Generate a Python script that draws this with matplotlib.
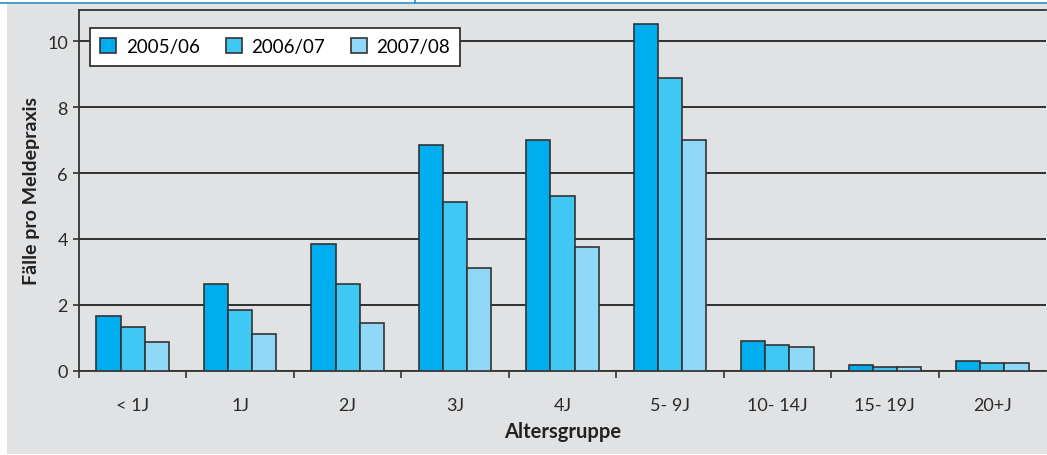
import matplotlib.pyplot as plt
import matplotlib.patches as mpatches
import numpy as np

plt.rcParams['font.family'] = ['Lato', 'DejaVu Sans']

groups = ['< 1J', '1J', '2J', '3J', '4J', '5- 9J', '10- 14J', '15- 19J', '20+J']
seasons = ['2005/06', '2006/07', '2007/08']
v0506 = [1.67, 2.64, 3.85, 6.86, 7.00, 10.52, 0.89, 0.17, 0.29]
v0607 = [1.34, 1.84, 2.64, 5.13, 5.31, 8.90, 0.78, 0.10, 0.22]
v0708 = [0.88, 1.12, 1.44, 3.13, 3.76, 7.00, 0.73, 0.10, 0.22]
colors = ['#00aeef', '#40c8f4', '#8fd8f8']

fig = plt.figure(figsize=(10.47, 4.56), dpi=100)
# grey panel behind the chart
fig.patches.append(mpatches.Rectangle((7/1047, 1/456), 1 - 7/1047, 450/456,
                   transform=fig.transFigure, facecolor='#e1e2e4', edgecolor='none', zorder=-5))
fig.lines.append(plt.Line2D([0, 1], [1 - 4/456, 1 - 4/456], transform=fig.transFigure,
                 color='#2a8fc4', lw=1.2))
fig.lines.append(plt.Line2D([415/1047, 415/1047], [1 - 4/456, 1], transform=fig.transFigure,
                 color='#2a8fc4', lw=1.2))

ax = fig.add_axes([79/1047, 1 - 371.7/456, 967/1047, 360.7/456])
ax.set_facecolor('none')

x = np.arange(len(groups))
w = 0.225
for i, (vals, lab) in enumerate(zip([v0506, v0607, v0708], seasons)):
    ax.bar(x + (i - 1) * w, vals, w, color=colors[i], edgecolor='#333333',
           linewidth=1.2, label=lab, zorder=3)

ax.set_xlim(-0.5, len(groups) - 0.5)
ax.set_ylim(0, 10.95)
ax.set_yticks([0, 2, 4, 6, 8, 10])
ax.grid(axis='y', color='#222222', lw=1.3, zorder=1)
ax.set_xticks(np.arange(len(groups)) - 0.5)
ax.set_xticklabels([])
ax.set_xticks(x, minor=True)
ax.set_xticklabels(groups, minor=True)
ax.tick_params(axis='x', which='major', length=5, width=1.2, color='#333333', direction='out')
ax.tick_params(axis='x', which='minor', length=0, pad=19, labelsize=13, labelcolor='#2a2a2a')
ax.tick_params(axis='y', length=4, width=1.2, color='#333333', labelsize=13,
               labelcolor='#2a2a2a', pad=4)
for s in ['left', 'bottom', 'top']:
    ax.spines[s].set_color('#333333')
    ax.spines[s].set_linewidth(1.3)
ax.spines['right'].set_visible(False)

ax.set_xlabel('Altersgruppe', fontsize=14.5, fontweight='bold', color='#222222', labelpad=6)
ax.set_ylabel('Fälle pro Meldepraxis', fontsize=14, fontweight='bold', color='#222222', labelpad=5)

leg = ax.legend(loc='upper left', bbox_to_anchor=(11/967, 1 - 18/360.7), ncol=3,
                fontsize=13.5, frameon=True, fancybox=False, borderpad=0.55,
                handlelength=0.85, handleheight=0.85, columnspacing=1.4, handletextpad=0.5,
                borderaxespad=0)
leg.get_frame().set_edgecolor('#333333')
leg.get_frame().set_linewidth(1.3)
leg.get_frame().set_facecolor('white')
leg.get_frame().set_alpha(1)
leg.set_zorder(5)

fig.savefig('out.png', dpi=100)
